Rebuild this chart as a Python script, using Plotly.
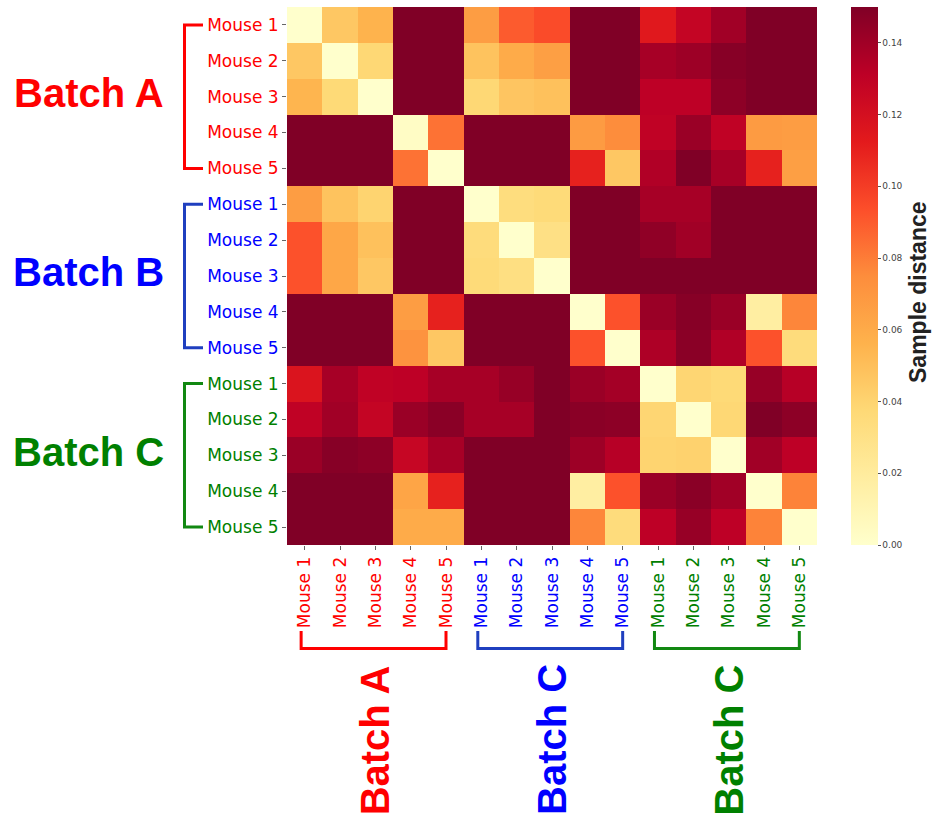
import plotly.graph_objects as go

# Sample labels and batch grouping
mice = ["Mouse 1", "Mouse 2", "Mouse 3", "Mouse 4", "Mouse 5"]
row_batches = ["Batch A", "Batch B", "Batch C"]
col_batches = ["Batch A", "Batch C", "Batch C"]
batch_colors = ["red", "blue", "green"]
bracket_colors = ["#ff0000", "#1f3fbf", "#118811"]

# Pairwise sample distances, one row per sample (A1..A5, B1..B5, C1..C5)
dist_A1 = [0.000, 0.046, 0.056, 0.150, 0.150, 0.067, 0.090, 0.095, 0.150, 0.150, 0.114, 0.128, 0.140, 0.150, 0.150]
dist_A2 = [0.046, 0.000, 0.038, 0.150, 0.150, 0.048, 0.060, 0.066, 0.150, 0.150, 0.138, 0.141, 0.148, 0.150, 0.150]
dist_A3 = [0.055, 0.037, 0.000, 0.150, 0.150, 0.038, 0.047, 0.049, 0.150, 0.150, 0.131, 0.131, 0.146, 0.150, 0.150]
dist_A4 = [0.150, 0.150, 0.150, 0.003, 0.083, 0.150, 0.150, 0.150, 0.068, 0.075, 0.130, 0.142, 0.130, 0.068, 0.067]
dist_A5 = [0.150, 0.150, 0.150, 0.083, 0.000, 0.150, 0.150, 0.150, 0.110, 0.046, 0.135, 0.150, 0.138, 0.110, 0.066]
dist_B1 = [0.067, 0.048, 0.040, 0.150, 0.150, 0.000, 0.034, 0.036, 0.150, 0.150, 0.138, 0.138, 0.150, 0.150, 0.150]
dist_B2 = [0.093, 0.062, 0.049, 0.150, 0.150, 0.035, 0.000, 0.031, 0.150, 0.150, 0.145, 0.140, 0.150, 0.150, 0.150]
dist_B3 = [0.093, 0.062, 0.046, 0.150, 0.150, 0.036, 0.032, 0.000, 0.150, 0.150, 0.150, 0.150, 0.150, 0.150, 0.150]
dist_B4 = [0.150, 0.150, 0.150, 0.067, 0.110, 0.150, 0.150, 0.150, 0.000, 0.093, 0.142, 0.148, 0.142, 0.018, 0.077]
dist_B5 = [0.150, 0.150, 0.150, 0.072, 0.046, 0.150, 0.150, 0.150, 0.093, 0.000, 0.136, 0.147, 0.135, 0.093, 0.035]
dist_C1 = [0.117, 0.138, 0.130, 0.131, 0.138, 0.138, 0.143, 0.150, 0.142, 0.139, 0.000, 0.039, 0.037, 0.143, 0.133]
dist_C2 = [0.130, 0.140, 0.128, 0.142, 0.147, 0.138, 0.138, 0.150, 0.147, 0.146, 0.039, 0.000, 0.038, 0.150, 0.146]
dist_C3 = [0.142, 0.148, 0.146, 0.127, 0.138, 0.150, 0.150, 0.150, 0.141, 0.133, 0.040, 0.041, 0.000, 0.140, 0.131]
dist_C4 = [0.150, 0.150, 0.150, 0.063, 0.110, 0.150, 0.150, 0.150, 0.018, 0.093, 0.142, 0.147, 0.140, 0.000, 0.078]
dist_C5 = [0.150, 0.150, 0.150, 0.060, 0.060, 0.150, 0.150, 0.150, 0.077, 0.035, 0.131, 0.143, 0.131, 0.078, 0.000]

# Colour bar ticks
cbar_ticks = [0.00, 0.02, 0.04, 0.06, 0.08, 0.10, 0.12, 0.14]
cbar_title = "Sample distance"
vmin, vmax = 0.0, 0.15

ylorrd = ["#ffffcc", "#ffeda0", "#fed976", "#feb24c", "#fd8d3c",
          "#fc4e2a", "#e31a1c", "#bd0026", "#800026"]
colorscale = [[i / (len(ylorrd) - 1), c] for i, c in enumerate(ylorrd)]

z = [dist_A1, dist_A2, dist_A3, dist_A4, dist_A5,
     dist_B1, dist_B2, dist_B3, dist_B4, dist_B5,
     dist_C1, dist_C2, dist_C3, dist_C4, dist_C5]
n = len(z)
idx = list(range(n))

# figure geometry (pixels)
W, H = 933, 815
L, R, T, B = 287, 817, 7, 545
PW, PH = R - L, B - T


def px_x(p):
    return (p - L) / PW


def px_y(p):
    return (B - p) / PH


row_text = [f"<span style='color:{batch_colors[i // 5]}'>{mice[i % 5]}</span>" for i in idx]

fig = go.Figure(go.Heatmap(
    z=z, x=idx, y=idx,
    zmin=vmin, zmax=vmax,
    colorscale=colorscale,
    colorbar=dict(
        x=px_x(851), xanchor="left", xref="paper", xpad=0,
        y=0.5, yanchor="middle", len=1, lenmode="fraction", ypad=0,
        thickness=27, thicknessmode="pixels", outlinewidth=0,
        tickvals=cbar_ticks, ticktext=[f"{t:.2f}" for t in cbar_ticks],
        ticks="outside", ticklen=3, tickcolor="#555", tickwidth=1,
        tickfont=dict(family="DejaVu Sans", size=9, color="#444"),
    ),
    hovertemplate="%{z:.3f}<extra></extra>",
))

fig.update_xaxes(
    range=[-0.5, n - 0.5], tickmode="array", tickvals=idx, ticktext=row_text,
    tickangle=-90, ticks="outside", ticklen=4, tickcolor="#666",
    tickfont=dict(family="DejaVu Sans", size=17),
    showgrid=False, zeroline=False, showline=False,
)
fig.update_yaxes(
    range=[n - 0.5, -0.5], tickmode="array", tickvals=idx, ticktext=row_text,
    ticks="outside", ticklen=4, tickcolor="#666",
    tickfont=dict(family="DejaVu Sans", size=17),
    showgrid=False, zeroline=False, showline=False,
)

shapes = []
annotations = []
arm_x0, arm_x1 = px_x(184.5), px_x(203)
bot_top, bot_line = px_y(631), px_y(648.5)
for g in range(3):
    first, last = g * 5, g * 5 + 4
    # bracket beside the rows of this batch
    shapes.append(dict(
        type="path", xref="paper", yref="y",
        path=f"M {arm_x1},{first} L {arm_x0},{first} L {arm_x0},{last} L {arm_x1},{last}",
        line=dict(color=bracket_colors[g], width=3),
    ))
    # bracket under the columns of this batch
    shapes.append(dict(
        type="path", xref="x", yref="paper",
        path=f"M {first - 0.1},{bot_top} L {first - 0.1},{bot_line} L {last},{bot_line} L {last},{bot_top}",
        line=dict(color=bracket_colors[g], width=3),
    ))
    annotations.append(dict(
        text=f"<b>{row_batches[g]}</b>", xref="paper", yref="y",
        x=px_x(88.5), y=(first + last) / 2 - 0.1, xanchor="center", yanchor="middle",
        showarrow=False,
        font=dict(family="Liberation Sans", size=40, color=batch_colors[g]),
    ))
    annotations.append(dict(
        text=f"<b>{col_batches[g]}</b>", xref="x", yref="paper",
        x=(first + last) / 2, y=px_y(740), xanchor="center", yanchor="middle",
        textangle=-90, showarrow=False,
        font=dict(family="Liberation Sans", size=40, color=batch_colors[g]),
    ))

# colour bar title, set to the right of the tick labels
annotations.append(dict(
    text=f"<b>{cbar_title}</b>", xref="paper", yref="paper",
    x=px_x(918), y=px_y(292), xanchor="center", yanchor="middle",
    textangle=-90, showarrow=False, borderpad=0,
    font=dict(family="Liberation Sans", size=23, color="#222"),
))

fig.update_layout(
    width=W, height=H,
    margin=dict(l=L, r=W - R, t=T, b=H - B, autoexpand=False),
    paper_bgcolor="white", plot_bgcolor="white",
    shapes=shapes, annotations=annotations,
    showlegend=False,
)

fig.write_html("out.html")
